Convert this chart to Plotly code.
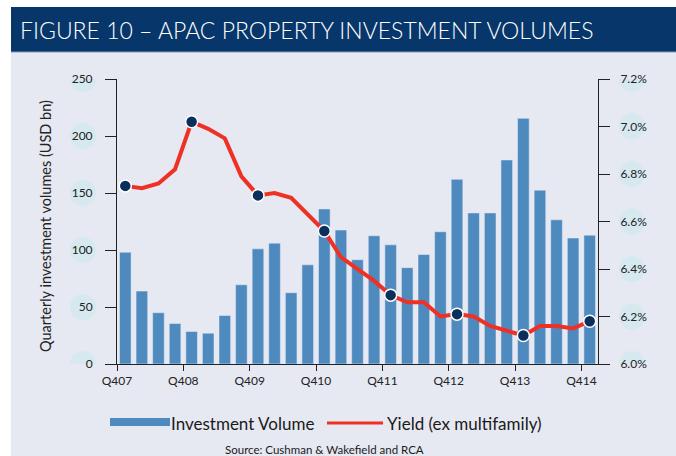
import plotly.graph_objects as go

quarters = list(range(29))
tick_labels = ["Q407", "Q408", "Q409", "Q410", "Q411", "Q412", "Q413", "Q414"]
volume = [98, 64, 45, 35.5, 28.5, 27, 42.5, 69.5, 101, 106, 62.5, 87, 136,
          117.5, 91.5, 112.5, 104.5, 84.5, 96, 116, 162, 132.5, 132.5, 179,
          215.5, 152.5, 126.5, 110.5, 113]
yield_pct = [6.75, 6.74, 6.76, 6.82, 7.02, 6.99, 6.95, 6.79, 6.71, 6.72, 6.70,
             6.63, 6.56, 6.45, 6.40, 6.35, 6.29, 6.26, 6.26, 6.20, 6.21, 6.20,
             6.16, 6.14, 6.12, 6.16, 6.16, 6.15, 6.18]
left_ticks = [0, 50, 100, 150, 200, 250]
right_ticks = [6.0, 6.2, 6.4, 6.6, 6.8, 7.0, 7.2]
right_tick_labels = ["6.0%", "6.2%", "6.4%", "6.6%", "6.8%", "7.0%", "7.2%"]
marker_idx = list(range(0, 29, 4))

FONT = "Lato"
NAVY = "#06366a"
BG = "#e6e8f2"
BLUE = "#4f8abf"
RED = "#ee3124"

W, H = 676, 456
L, R, T, B = 117, 78, 79, 92
pw, ph = W - L - R, H - T - B


def px(x):
    return (x - L) / pw


def py(y):
    return (H - B - y) / ph


fig = go.Figure()
fig.add_trace(go.Bar(x=quarters, y=volume, marker_color=BLUE, width=0.7,
                     name="Investment Volume", yaxis="y"))
fig.add_trace(go.Scatter(x=quarters, y=yield_pct, mode="lines",
                         line=dict(color=RED, width=4), yaxis="y2",
                         name="Yield (ex multifamily)"))
fig.add_trace(go.Scatter(x=[quarters[i] for i in marker_idx],
                         y=[yield_pct[i] for i in marker_idx], mode="markers",
                         marker=dict(color="#0a2f5c", size=12,
                                     line=dict(color="white", width=1.5)),
                         yaxis="y2", showlegend=False))

shapes = [
    dict(type="rect", xref="paper", yref="paper", x0=px(11), x1=px(676),
         y0=py(456), y1=py(52), fillcolor=BG, line_width=0, layer="below"),
    dict(type="rect", xref="paper", yref="paper", x0=px(11), x1=px(676),
         y0=py(52), y1=py(7), fillcolor=NAVY, line_width=0, layer="below"),
    dict(type="line", xref="paper", yref="paper", x0=px(11), x1=px(676),
         y0=py(52), y1=py(52), line=dict(color="#7f9cc0", width=1)),
]
for v in left_ticks:
    shapes.append(dict(type="circle", xref="paper", yref="y",
                       xsizemode="pixel", ysizemode="pixel",
                       xanchor=px(83), yanchor=v, x0=-13, x1=13, y0=-13, y1=13,
                       fillcolor="#d5e9ef", line_width=0, layer="below"))
for v in right_ticks:
    shapes.append(dict(type="circle", xref="paper", yref="y2",
                       xsizemode="pixel", ysizemode="pixel",
                       xanchor=px(632), yanchor=v, x0=-13, x1=13, y0=-13, y1=13,
                       fillcolor="#d5e9ef", line_width=0, layer="below"))
# legend swatches
shapes.append(dict(type="rect", xref="paper", yref="paper", x0=px(110),
                   x1=px(170), y0=py(426), y1=py(418), fillcolor=BLUE,
                   line_width=0))
shapes.append(dict(type="line", xref="paper", yref="paper", x0=px(327),
                   x1=px(383), y0=py(423), y1=py(423),
                   line=dict(color=RED, width=3)))

annotations = [
    dict(text="FIGURE 10 – APAC PROPERTY INVESTMENT VOLUMES", xref="paper",
         yref="paper", x=px(18), y=py(30), xanchor="left", yanchor="middle",
         showarrow=False,
         font=dict(family=FONT, size=23, color="white", weight=300)),
    dict(text="Quarterly investment volumes (USD bn)", xref="paper",
         yref="paper", x=px(45), y=py(226), textangle=-90, showarrow=False,
         xanchor="center", yanchor="middle",
         font=dict(family=FONT, size=14.5, color="#222")),
    dict(text="Investment Volume", xref="paper", yref="paper", x=px(169),
         y=py(423), xanchor="left", yanchor="middle", showarrow=False,
         font=dict(family=FONT, size=17, color="#1a1a1a")),
    dict(text="Yield (ex multifamily)", xref="paper", yref="paper", x=px(385),
         y=py(423), xanchor="left", yanchor="middle", showarrow=False,
         font=dict(family=FONT, size=17, color="#1a1a1a")),
    dict(text="Source: Cushman &amp; Wakefield and RCA", xref="paper",
         yref="paper", x=px(324), y=py(449), xanchor="center",
         yanchor="middle", showarrow=False,
         font=dict(family=FONT, size=11.5, color="#1a1a1a")),
]

fig.update_layout(
    width=W, height=H, margin=dict(l=L, r=R, t=T, b=B),
    paper_bgcolor="white", plot_bgcolor="rgba(0,0,0,0)",
    showlegend=False, bargap=0.3, shapes=shapes, annotations=annotations,
    xaxis=dict(range=[-0.5, 28.5], tickmode="array",
               tickvals=[-0.5 + 4 * k for k in range(len(tick_labels))],
               ticktext=tick_labels, ticks="outside", ticklen=6,
               tickcolor="#222", showline=True, linecolor="#222",
               showgrid=False, zeroline=False,
               tickfont=dict(family=FONT, size=12, color="#222")),
    yaxis=dict(range=[0, 250], tickvals=left_ticks, ticks="outside",
               ticklen=11, tickcolor="#222", showline=True, linecolor="#222",
               showgrid=False, zeroline=False, ticklabelstandoff=10,
               tickfont=dict(family=FONT, size=12, color="#222")),
    yaxis2=dict(range=[6.0, 7.2], tickmode="array", tickvals=right_ticks,
                ticktext=right_tick_labels, overlaying="y",
                side="right", ticks="outside", ticklen=11, tickcolor="#222",
                showline=True, linecolor="#222", showgrid=False,
                zeroline=False, ticklabelstandoff=8,
                tickfont=dict(family=FONT, size=12, color="#222")),
)

fig.write_html("out.html", config={"displayModeBar": False},
               post_script="document.body.style.margin='0';"
                           "document.body.style.padding='0';")
